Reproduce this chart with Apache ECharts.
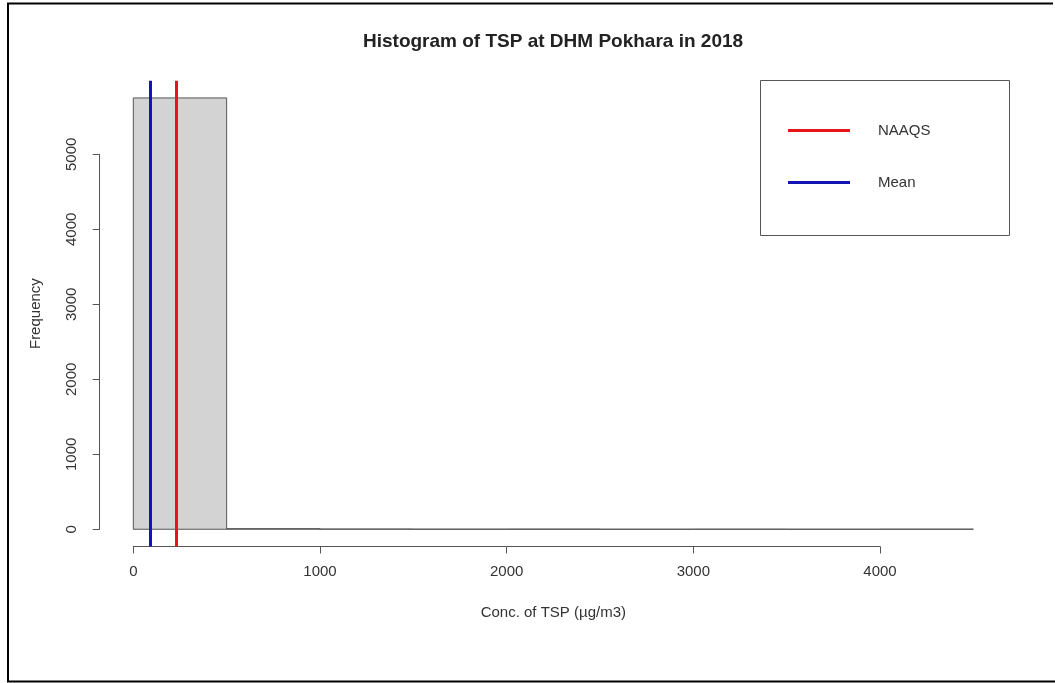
<!DOCTYPE html>
<html>
<head>
<meta charset="utf-8">
<script src="https://cdn.jsdelivr.net/npm/echarts@6/dist/echarts.min.js"></script>
<style>
  html, body { margin: 0; padding: 0; background: #fff; }
  #chart { width: 1055px; height: 683px; }
</style>
</head>
<body>
<div id="chart"></div>
<script>
// histogram bins (breaks of 500 ug/m3) and their counts
var binStarts = [0, 500, 1000, 1500, 2000, 2500, 3000, 3500, 4000];
var binEnds   = [500, 1000, 1500, 2000, 2500, 3000, 3500, 4000, 4500];
var counts    = [5750, 8, 3, 1, 2, 0, 1, 0, 1];

var meanTSP = 90;     // mean of the series
var naaqsTSP = 230;   // national standard
var legendNames = ['NAAQS', 'Mean'];

var axisGray = '#555';
var textGray = '#333';
var font = 'Liberation Sans, Arial, sans-serif';

var binData = [];
for (var i = 0; i < counts.length; i++) {
    binData.push([binStarts[i], binEnds[i], counts[i]]);
}

function renderBin (params, api) {
    var p0 = api.coord([api.value(0), 0]);
    var p1 = api.coord([api.value(1), api.value(2)]);
    return {
        type: 'rect',
        shape: { x: p0[0], y: p1[1], width: p1[0] - p0[0], height: p0[1] - p1[1] },
        style: { fill: '#d3d3d3', stroke: axisGray, lineWidth: 1 }
    };
}

function vline (value, color) {
    return {
        silent: true,
        symbol: 'none',
        animation: false,
        label: { show: false },
        lineStyle: { color: color, width: 3, type: 'solid' },
        data: [{ xAxis: value }]
    };
}

function plainNum (v) { return String(v); }

var chart = echarts.init(document.getElementById('chart'), null, { renderer: 'canvas' });

var option = {
    animation: false,
    backgroundColor: '#fff',
    textStyle: { fontFamily: font },
    title: {
        text: 'Histogram of TSP at DHM Pokhara in 2018',
        left: 363,
        top: 32,
        padding: 0,
        textStyle: { fontSize: 19, fontWeight: 'bold', color: '#222', fontFamily: font }
    },
    legend: {
        data: legendNames,
        orient: 'vertical',
        left: 788,
        top: 123,
        padding: 0,
        itemGap: 37,
        itemWidth: 62,
        itemHeight: 3,
        icon: 'rect',
        selectedMode: false,
        textStyle: { fontSize: 15, color: textGray, fontFamily: font, padding: [0, 0, 0, 23] }
    },
    grid: [
        // plot region
        { left: 99.7, right: 48, top: 80.7, bottom: 136.5 },
        // x axis strip (0..4000)
        { left: 133.3, width: 746.7, bottom: 136.5, height: 20 },
        // y axis strip (0..5000)
        { left: 99.7, width: 20, top: 154.3, height: 375 }
    ],
    xAxis: [
        {
            gridIndex: 0, type: 'value', min: -180, max: 4680,
            name: 'Conc. of TSP (µg/m3)', nameLocation: 'middle', nameGap: 59,
            nameTextStyle: { fontSize: 15, color: textGray, fontFamily: font },
            axisLine: { show: false }, axisTick: { show: false },
            axisLabel: { show: false }, splitLine: { show: false }
        },
        {
            gridIndex: 1, type: 'value', min: 0, max: 4000, interval: 1000,
            axisLine: { show: true, lineStyle: { color: axisGray, width: 1 } },
            axisTick: { show: true, length: 7, lineStyle: { color: axisGray } },
            axisLabel: { fontSize: 15, color: textGray, margin: 18, fontFamily: font, formatter: plainNum },
            splitLine: { show: false }
        },
        { gridIndex: 2, type: 'value', show: false }
    ],
    yAxis: [
        {
            gridIndex: 0, type: 'value', min: -230, max: 5980,
            name: 'Frequency', nameLocation: 'middle', nameGap: 56,
            nameTextStyle: { fontSize: 15, color: textGray, fontFamily: font },
            axisLine: { show: false }, axisTick: { show: false },
            axisLabel: { show: false }, splitLine: { show: false }
        },
        { gridIndex: 1, type: 'value', show: false },
        {
            gridIndex: 2, type: 'value', min: 0, max: 5000, interval: 1000,
            axisLine: { show: true, lineStyle: { color: axisGray, width: 1 } },
            axisTick: { show: true, length: 7, lineStyle: { color: axisGray } },
            axisLabel: { fontSize: 15, color: textGray, margin: 20, rotate: 90, fontFamily: font, formatter: plainNum },
            splitLine: { show: false }
        }
    ],
    series: [
        {
            name: 'TSP',
            type: 'custom',
            xAxisIndex: 0, yAxisIndex: 0,
            renderItem: renderBin,
            encode: { x: [0, 1], y: 2 },
            data: binData,
            z: 2
        },
        {
            name: 'NAAQS',
            type: 'line',
            xAxisIndex: 0, yAxisIndex: 0,
            color: '#e8141a',
            data: [],
            markLine: vline(naaqsTSP, '#e8141a'),
            z: 5
        },
        {
            name: 'Mean',
            type: 'line',
            xAxisIndex: 0, yAxisIndex: 0,
            color: '#1414b4',
            data: [],
            markLine: vline(meanTSP, '#1414b4'),
            z: 5
        }
    ],
    graphic: [
        {
            type: 'polyline',
            silent: true,
            shape: { points: [[1053, 3.5], [8, 3.5], [8, 681.5], [1055, 681.5]] },
            style: { stroke: '#000', lineWidth: 2, fill: null }
        },
        {
            type: 'rect',
            silent: true,
            shape: { x: 760.5, y: 80.5, width: 249, height: 155 },
            style: { stroke: axisGray, lineWidth: 1, fill: null }
        }
    ]
};

chart.setOption(option);
</script>
</body>
</html>
